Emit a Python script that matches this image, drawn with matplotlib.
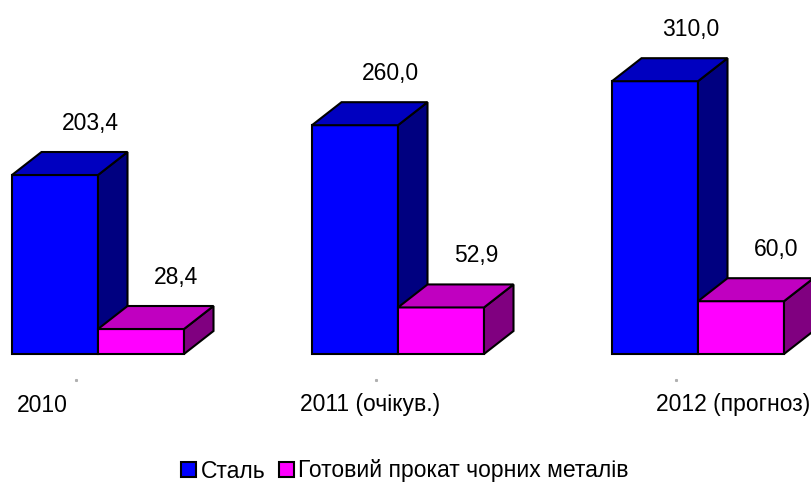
import numpy as np
import matplotlib.pyplot as plt
from matplotlib.patches import Polygon, Patch

plt.rcParams['font.family'] = ['Liberation Sans', 'DejaVu Sans']

categories = ['2010', '2011 (очікув.)', '2012 (прогноз)']
steel = [203.4, 260.0, 310.0]
rolled = [28.4, 52.9, 60.0]
series_names = ['Сталь', 'Готовий прокат чорних металів']

# colours: front, top, side
blue = ('#0000ff', '#0000c0', '#000080')
magenta = ('#ff00ff', '#c000c0', '#800080')

# pixel-ish layout (300 px per group, 0.88 px per unit)
px_x = 300.0
px_y = 0.88
bar_w = 86 / px_x
dx = 29.5 / px_x
dy = 23 / px_y
fs = 16.5

fig = plt.figure(figsize=(8.12, 4.82), dpi=100)
ax = fig.add_axes([0, 0, 1, 1])
ax.set_xlim(-98 / px_x, (812 - 98) / px_x)
ax.set_ylim(-(482 - 354) / px_y, 354 / px_y)
ax.axis('off')

x = np.arange(len(categories))


def bar3d(lefts, heights, cols):
    bars = ax.bar(lefts, heights, width=bar_w, align='edge', color=cols[0],
                  edgecolor='black', linewidth=1.5, zorder=3)
    for b in bars:
        x0 = b.get_x()
        x1 = x0 + b.get_width()
        h = b.get_height()
        top = Polygon([(x0, h), (x0 + dx, h + dy), (x1 + dx, h + dy), (x1, h)],
                      closed=True, facecolor=cols[1], edgecolor='black',
                      linewidth=1.5, zorder=3)
        side = Polygon([(x1, 0), (x1 + dx, dy), (x1 + dx, h + dy), (x1, h)],
                       closed=True, facecolor=cols[2], edgecolor='black',
                       linewidth=1.5, zorder=3)
        ax.add_patch(side)
        ax.add_patch(top)
        ax.text(x0 + bar_w / 2 + dx + 6 / px_x, h + dy + 29 / px_y,
                f'{h:.1f}'.replace('.', ','), ha='center', va='center',
                fontsize=fs, zorder=4)
    return bars


bar3d(x - bar_w, steel, blue)
bar3d(x, rolled, magenta)

# category labels and tiny tick marks
label_offsets = [-56, -28, 35]
for i, name in enumerate(categories):
    ax.text(x[i] + label_offsets[i] / px_x, -51 / px_y, name,
            ha='center', va='center', fontsize=fs)
    ax.plot(x[i] - 22 / px_x, -26 / px_y, marker='s', markersize=1.2,
            color='#b0b0b0', linestyle='none')

handles = [Patch(facecolor=blue[0], edgecolor='black', linewidth=1.5),
           Patch(facecolor=magenta[0], edgecolor='black', linewidth=1.5)]
fig.legend(handles, series_names, loc='center left',
           bbox_to_anchor=(181 / 812, 1 - 471 / 482),
           ncol=2, frameon=False, fontsize=fs, handlelength=0.65, handleheight=0.65,
           handletextpad=0.2, columnspacing=0.6, borderpad=0, borderaxespad=0)

fig.savefig('out.png', dpi=100)
